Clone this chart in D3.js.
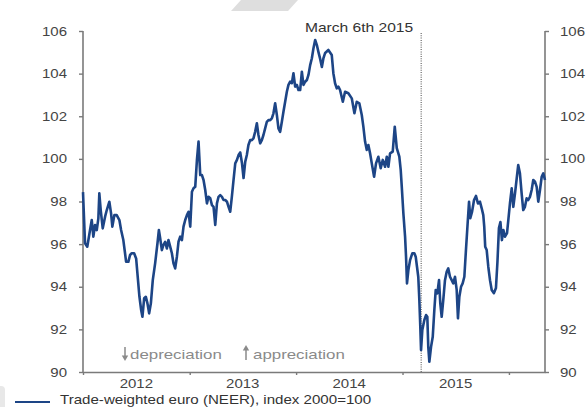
<!DOCTYPE html>
<html>
<head>
<meta charset="utf-8">
<script src="https://cdn.jsdelivr.net/npm/d3@7"></script>
<style>
  html, body { margin: 0; padding: 0; background: #fff; }
  svg { display: block; }
  text { font-family: "Liberation Sans", Arial, sans-serif; }
</style>
</head>
<body>
<svg id="chart" width="587" height="407"></svg>
<script>
// ---- data (decimal year, index value) ----
const dates = [2012.000,2012.019,2012.040,2012.066,2012.082,2012.097,2012.113,2012.129,2012.144,2012.153,2012.166,2012.185,2012.207,2012.223,2012.247,2012.263,2012.275,2012.294,2012.316,2012.341,2012.357,2012.378,2012.394,2012.404,2012.425,2012.441,2012.457,2012.479,2012.498,2012.510,2012.529,2012.545,2012.557,2012.573,2012.589,2012.604,2012.620,2012.636,2012.654,2012.676,2012.698,2012.711,2012.723,2012.739,2012.754,2012.770,2012.786,2012.801,2012.817,2012.833,2012.848,2012.864,2012.880,2012.895,2012.911,2012.927,2012.942,2012.958,2012.974,2012.989,
2013.005,2013.021,2013.036,2013.052,2013.068,2013.083,2013.099,2013.115,2013.130,2013.146,2013.162,2013.177,2013.193,2013.209,2013.224,2013.240,2013.256,2013.271,2013.287,2013.303,2013.318,2013.334,2013.350,2013.365,2013.381,2013.396,2013.412,2013.428,2013.444,2013.459,2013.475,2013.491,2013.506,2013.522,2013.537,2013.552,2013.568,2013.584,2013.599,2013.615,2013.631,2013.646,2013.662,2013.678,2013.693,2013.709,2013.725,2013.740,2013.756,2013.772,2013.787,2013.803,2013.819,2013.834,2013.850,2013.866,2013.881,2013.897,2013.913,2013.928,2013.944,2013.960,2013.975,2013.991,
2014.007,2014.022,2014.038,2014.054,2014.069,2014.085,2014.101,2014.116,2014.132,2014.148,2014.163,2014.179,2014.195,2014.210,2014.226,2014.242,2014.257,2014.273,2014.303,2014.335,2014.350,2014.366,2014.382,2014.397,2014.413,2014.439,2014.460,2014.491,2014.523,2014.548,2014.570,2014.594,2014.617,2014.632,2014.648,2014.664,2014.679,2014.695,2014.711,2014.733,2014.751,2014.773,2014.795,2014.814,2014.836,2014.852,2014.867,2014.883,2014.908,2014.927,2014.946,2014.970,2014.983,2014.993,
2015.008,2015.024,2015.033,2015.042,2015.055,2015.071,2015.092,2015.111,2015.124,2015.136,2015.148,2015.158,2015.167,2015.174,2015.186,2015.205,2015.221,2015.233,2015.242,2015.252,2015.268,2015.284,2015.299,2015.312,2015.327,2015.343,2015.355,2015.368,2015.383,2015.399,2015.415,2015.430,2015.446,2015.462,2015.477,2015.493,2015.509,2015.521,2015.534,2015.550,2015.565,2015.581,2015.596,2015.612,2015.625,2015.637,2015.653,2015.672,2015.690,2015.709,2015.728,2015.744,2015.759,2015.768,2015.777,2015.791,2015.806,2015.822,2015.838,2015.859,2015.878,2015.892,2015.906,2015.920,2015.934,2015.948,2015.963,2015.982,2015.996,
2016.010,2016.026,2016.041,2016.057,2016.073,2016.087,2016.103,2016.119,2016.134,2016.150,2016.166,2016.181,2016.197,2016.213,2016.228,2016.244,2016.260,2016.275,2016.291,2016.307,2016.322,2016.338];

const neer = [98.44,96.04,95.88,96.66,97.13,96.35,96.90,96.66,97.21,98.38,97.60,96.74,97.29,97.60,97.99,97.44,96.82,97.36,97.36,97.13,96.66,96.19,95.57,95.17,95.17,95.49,95.57,95.57,95.33,94.63,93.53,92.91,92.59,93.46,93.53,93.22,92.75,93.22,94.31,95.10,96.04,96.66,96.29,95.72,95.96,96.11,95.80,96.19,95.88,95.57,95.10,94.86,95.41,96.11,96.35,96.19,96.82,97.13,97.36,97.52,
96.82,98.46,98.62,98.69,99.95,100.81,99.24,99.24,99.01,98.54,97.91,98.22,98.15,97.83,97.75,96.90,97.91,98.22,98.30,98.22,98.07,98.07,97.99,97.75,97.52,98.22,99.01,99.79,99.95,100.18,100.30,99.81,99.10,99.87,100.18,100.65,100.88,100.88,100.96,101.27,101.67,101.12,100.73,100.88,101.12,101.43,101.74,101.82,101.82,101.90,102.14,102.61,102.06,101.43,101.27,101.74,102.21,102.68,103.15,103.47,103.62,103.55,104.02,103.39,
103.47,103.23,103.23,104.09,103.47,103.62,103.70,103.94,104.40,104.72,105.19,105.58,105.34,105.01,104.69,104.31,104.73,104.97,105.11,104.87,104.02,103.55,103.31,103.39,103.23,102.68,103.15,103.08,102.84,102.14,102.68,102.61,102.06,101.51,100.81,100.42,100.65,100.26,99.79,99.16,99.79,100.10,99.56,99.95,99.63,100.10,99.63,100.26,100.34,101.51,100.50,100.10,99.48,98.69,
97.44,96.35,95.41,94.16,94.78,95.25,95.57,95.57,95.41,94.94,94.47,93.38,92.12,91.03,91.97,92.44,92.67,92.59,91.18,90.48,91.18,91.65,92.91,93.85,93.69,94.31,93.22,92.59,93.38,94.31,94.70,94.86,94.47,94.31,94.16,94.47,93.85,92.52,93.53,94.00,94.16,94.47,95.72,96.98,97.99,97.22,97.51,98.07,98.26,97.91,97.99,97.68,97.36,96.82,95.88,95.72,94.94,94.31,93.85,93.70,93.94,95.16,96.75,97.04,96.19,96.66,96.35,96.52,97.22,
97.93,98.62,97.75,98.38,99.09,99.71,99.32,98.38,97.60,97.75,98.15,98.07,98.22,98.54,99.01,98.93,98.69,97.99,98.54,99.16,99.32,99.01];

const yearLabels = ["2012", "2013", "2014", "2015"];
const yTicks = [90, 92, 94, 96, 98, 100, 102, 104, 106];
const eventDate = "2015-03-06";
const eventLabel = "March 6th 2015";
const legendLabel = "Trade-weighted euro (NEER), index 2000=100";
const annotDown = "depreciation";
const annotUp = "appreciation";

// ---- helpers ----
function toDate(t) {
  const y = Math.floor(t);
  const a = new Date(y, 0, 1), b = new Date(y + 1, 0, 1);
  return new Date(+a + (t - y) * (b - a));
}
const data = dates.map((t, i) => ({ date: toDate(t), value: neer[i] }));

const svg = d3.select("#chart");
const SX = 1.2; // horizontal stretch of the reference text

function stretchedText(g, x, y, str, opts) {
  const t = g.append("text")
    .attr("transform", `translate(${x},${y}) scale(${opts.sx || SX},1)`)
    .attr("text-anchor", opts.anchor || "start")
    .attr("font-size", opts.size || 12.5)
    .attr("fill", opts.fill || "#444")
    .text(str);
  if (opts.weight) t.attr("font-weight", opts.weight);
  return t;
}

// ---- decorations from the reference ----
svg.append("polygon")
  .attr("points", "241,0 298,0 288,11 231,11")
  .attr("fill", "#dedede");
svg.append("rect")
  .attr("x", -6).attr("y", 386).attr("width", 11).attr("height", 30)
  .attr("rx", 4).attr("fill", "#e8e8e8");

// ---- scales ----
const x = d3.scaleTime()
  .domain([toDate(2012.0), toDate(2016.338)])
  .range([83, 545]);
const y = d3.scaleLinear().domain([90, 106]).range([372, 31]);

const axisColor = "#7a7a7a";

// left axis
const gl = svg.append("g").attr("transform", "translate(83,0)")
  .call(d3.axisLeft(y).tickValues(yTicks).tickSize(4).tickFormat(""));
// right axis
const gr = svg.append("g").attr("transform", "translate(545,0)")
  .call(d3.axisRight(y).tickValues(yTicks).tickSize(4).tickFormat(""));
// bottom axis
const yearStarts = [2012, 2013, 2014, 2015, 2016].map(v => new Date(v, 0, 1));
const gb = svg.append("g").attr("transform", "translate(0,372)")
  .call(d3.axisBottom(x).tickValues(yearStarts).tickSize(3).tickSizeOuter(0).tickFormat(""));

[gl, gr, gb].forEach(g => {
  g.select(".domain").attr("stroke", axisColor).attr("stroke-width", 1.6);
  g.selectAll(".tick line").attr("stroke", axisColor).attr("stroke-width", 1.4);
});
gl.select(".domain").attr("d", "M0,31V372");
gr.select(".domain").attr("d", "M0,31V372");

// tick labels
const labels = svg.append("g");
yTicks.forEach(v => {
  stretchedText(labels, 67, y(v) + 4.5, String(v), { anchor: "end" });
  stretchedText(labels, 560, y(v) + 4.5, String(v), { anchor: "start" });
});
yearLabels.forEach(lbl => {
  const yr = +lbl;
  stretchedText(labels, x(new Date(yr, 6, 2)), 388, lbl, { anchor: "middle" });
});

// event line
const ex = x(new Date(eventDate));
svg.append("line")
  .attr("x1", ex).attr("x2", ex)
  .attr("y1", 33).attr("y2", 372)
  .attr("stroke", "#666").attr("stroke-width", 1.2)
  .attr("stroke-dasharray", "1,1.3");
stretchedText(svg, ex - 8, 31.5, eventLabel, { anchor: "end", size: 13, fill: "#333" });

// depreciation / appreciation annotation
const annot = svg.append("g");
function arrow(g, ax, y0, y1) {
  const dir = y1 > y0 ? 1 : -1;
  g.append("line").attr("x1", ax).attr("x2", ax).attr("y1", y0).attr("y2", y1 - dir * 3)
    .attr("stroke", "#8a8a8a").attr("stroke-width", 1.5);
  g.append("path")
    .attr("d", `M${ax - 3.2},${y1 - dir * 5.5}L${ax + 3.2},${y1 - dir * 5.5}L${ax},${y1}Z`)
    .attr("fill", "#8a8a8a");
}
arrow(annot, 125, 347, 361);
stretchedText(annot, 130, 359, annotDown, { size: 13.5, fill: "#8a8a8a", sx: 1.25 });
arrow(annot, 246, 360, 345);
stretchedText(annot, 253, 359, annotUp, { size: 13.5, fill: "#8a8a8a", sx: 1.25 });

// line
const line = d3.line().x(d => x(d.date)).y(d => y(d.value));
svg.append("path")
  .datum(data)
  .attr("fill", "none")
  .attr("stroke", "#1d4586")
  .attr("stroke-width", 2.6)
  .attr("stroke-linejoin", "round")
  .attr("d", line);

// legend
svg.append("line").attr("x1", 15).attr("x2", 50).attr("y1", 402).attr("y2", 402)
  .attr("stroke", "#1d4586").attr("stroke-width", 2);
stretchedText(svg, 60, 403.5, legendLabel, { size: 12, fill: "#333", sx: 1.26 });
</script>
</body>
</html>
